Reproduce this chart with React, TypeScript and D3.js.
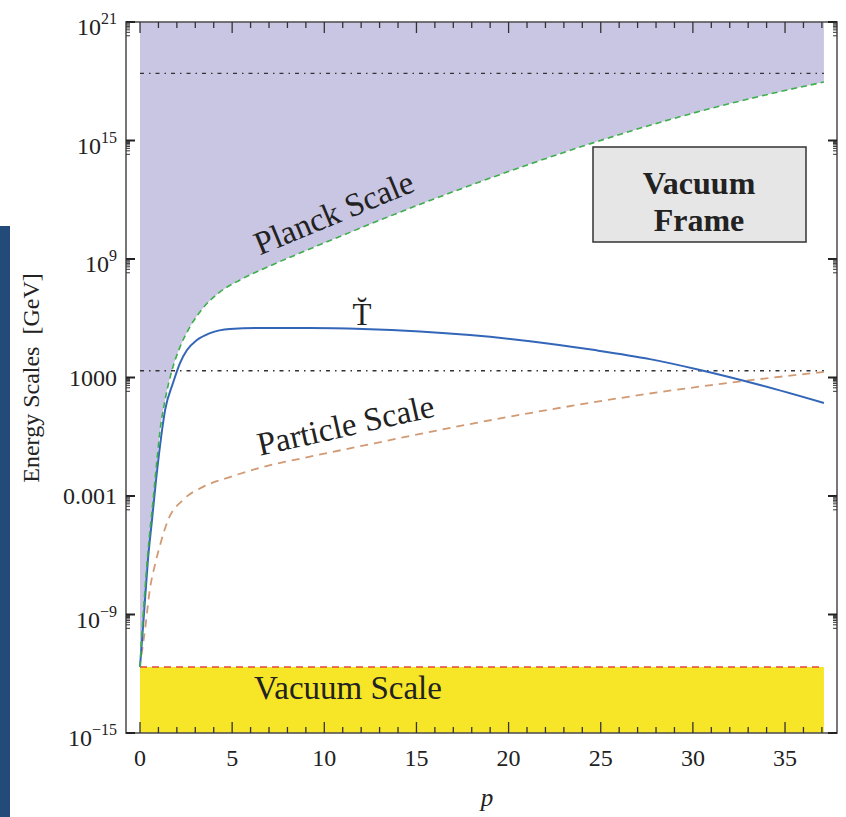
import React, { useEffect, useRef } from 'react';
import * as d3 from 'd3';

// curves: p along x, log10(energy / GeV) along y
const PLANCK_P = [0, 0.08, 0.19, 0.33, 0.49, 0.71, 0.92, 1.09, 1.36, 1.74, 2.17, 2.71, 3.42, 4.34, 5.43, 7.05, 8.68, 12.1, 15.03, 17.9, 21.16, 24.58, 27.67, 30.39, 33.64, 37.11];
const PLANCK_LOG = [-11.66, -10.29, -8.77, -7.0, -5.23, -3.2, -1.18, 0.34, 1.86, 3.38, 4.54, 5.56, 6.52, 7.33, 7.94, 8.65, 9.3, 10.62, 11.71, 12.72, 13.81, 14.88, 15.77, 16.48, 17.24, 17.96];

const T_P = [0, 0.11, 0.27, 0.43, 0.65, 0.87, 1.09, 1.36, 1.79, 2.17, 2.55, 3.09, 3.8, 4.88, 6.67, 9.22, 12.1, 15.19, 17.9, 21.16, 24.58, 27.67, 30.39, 33.64, 37.11];
const T_LOG = [-11.66, -10.29, -8.27, -6.24, -4.22, -2.19, -0.42, 1.35, 2.72, 3.73, 4.39, 4.9, 5.25, 5.46, 5.51, 5.51, 5.46, 5.33, 5.15, 4.84, 4.4, 3.93, 3.38, 2.62, 1.71];

const PARTICLE_P = [0.08, 0.27, 0.54, 0.81, 1.09, 1.52, 2.33, 3.42, 4.88, 6.67, 9.22, 12.1, 17.9, 21.16, 24.58, 27.67, 30.39, 33.64, 37.11];
const PARTICLE_LOG = [-11.05, -9.78, -7.7, -6.49, -5.48, -4.22, -3.2, -2.54, -2.04, -1.53, -1.01, -0.45, 0.64, 1.2, 1.74, 2.19, 2.54, 2.92, 3.28];

const VACUUM_LOG = -11.66;
const P_RANGE = [0, 37.11];
const REF_LINES = [18.4, 3.34]; // reduced Planck mass, TeV scale

const X_TICKS = [0, 5, 10, 15, 20, 25, 30, 35];
const Y_TICKS = [-15, -9, -3, 3, 9, 15, 21];
const Y_LABELS: [string, string][] = [['10', '\u221215'], ['10', '\u22129'], ['0.001', ''], ['1000', ''], ['10', '9'], ['10', '15'], ['10', '21']];

const SERIF = '"Liberation Serif", "Times New Roman", serif';

const App = () => {
  const ref = useRef<SVGSVGElement>(null);

  useEffect(() => {
    const svg = d3.select(ref.current);
    svg.selectAll('*').remove();

    const left = 126, right = 837, top = 22, bottom = 733;
    const x = d3.scaleLinear().domain([-0.76, 37.82]).range([left, right]);
    const y = d3.scaleLog().domain([1e-15, 1e21]).range([bottom, top]);
    const yl = (v: number) => y(Math.pow(10, v));

    // side bar
    svg.append('rect').attr('x', 0).attr('y', 226).attr('width', 10).attr('height', 591).attr('fill', '#234b7a');

    const planck = PLANCK_P.map((p, i) => [p, PLANCK_LOG[i]]);
    const tcurve = T_P.map((p, i) => [p, T_LOG[i]]);
    const particle = PARTICLE_P.map((p, i) => [p, PARTICLE_LOG[i]]);

    // shaded Planck region
    svg.append('path').datum(planck)
      .attr('d', d3.area<number[]>().x(d => x(d[0])).y0(top).y1(d => yl(d[1])).curve(d3.curveMonotoneX))
      .attr('fill', '#c9c6e3');

    // vacuum band
    svg.append('path').datum(P_RANGE)
      .attr('d', d3.area<number>().x(d => x(d)).y0(bottom).y1(yl(VACUUM_LOG)))
      .attr('fill', '#f6e627');

    svg.append('line').attr('x1', x(P_RANGE[0])).attr('x2', x(P_RANGE[1]))
      .attr('y1', yl(VACUUM_LOG)).attr('y2', yl(VACUUM_LOG))
      .attr('stroke', '#e5473a').attr('stroke-width', 1.5).attr('stroke-dasharray', '7,5');

    REF_LINES.forEach(v => {
      svg.append('line').attr('x1', x(P_RANGE[0])).attr('x2', x(P_RANGE[1]))
        .attr('y1', yl(v)).attr('y2', yl(v))
        .attr('stroke', '#333').attr('stroke-width', 1.4).attr('stroke-dasharray', '4,5,1.5,5');
    });

    const line = d3.line<number[]>().x(d => x(d[0])).y(d => yl(d[1])).curve(d3.curveMonotoneX);

    svg.append('path').datum(particle).attr('d', line).attr('fill', 'none')
      .attr('stroke', '#d29a74').attr('stroke-width', 1.8).attr('stroke-dasharray', '8,6');
    svg.append('path').datum(tcurve).attr('d', line).attr('fill', 'none')
      .attr('stroke', '#3366b8').attr('stroke-width', 2);
    svg.append('path').datum(planck).attr('d', line).attr('fill', 'none')
      .attr('stroke', '#3daf4b').attr('stroke-width', 1.6).attr('stroke-dasharray', '6,4');

    // frame
    svg.append('rect').attr('x', left).attr('y', top).attr('width', right - left).attr('height', bottom - top)
      .attr('fill', 'none').attr('stroke', '#555').attr('stroke-width', 1.6);

    // x ticks
    d3.range(0, 38).forEach(p => {
      const len = p % 5 === 0 ? 11 : 6;
      svg.append('line').attr('x1', x(p)).attr('x2', x(p)).attr('y1', bottom).attr('y2', bottom - len)
        .attr('stroke', '#333').attr('stroke-width', 1.3);
      svg.append('line').attr('x1', x(p)).attr('x2', x(p)).attr('y1', top).attr('y2', top + len)
        .attr('stroke', '#333').attr('stroke-width', 1.3);
    });
    svg.selectAll('text.xt').data(X_TICKS).enter().append('text')
      .attr('x', d => x(d)).attr('y', 766).attr('text-anchor', 'middle')
      .attr('font-family', SERIF).attr('font-size', 24).attr('fill', '#222').text(d => d);

    // y ticks
    Y_TICKS.forEach(n => {
      [left, right].forEach(ax => {
        const dir = ax === left ? 1 : -1;
        svg.append('line').attr('x1', ax).attr('x2', ax + dir * 9).attr('y1', yl(n)).attr('y2', yl(n))
          .attr('stroke', '#222').attr('stroke-width', 2);
        if (n > -15) {
          d3.range(2, 10).forEach(k => {
            const v = Math.log10(k) + n - 1;
            svg.append('line').attr('x1', ax).attr('x2', ax + dir * 4).attr('y1', yl(v)).attr('y2', yl(v))
              .attr('stroke', '#333').attr('stroke-width', 1);
          });
        }
      });
    });
    Y_TICKS.forEach((n, i) => {
      const [base, sup] = Y_LABELS[i];
      const t = svg.append('text').attr('x', 117).attr('y', yl(n) + (sup ? 13 : 8))
        .attr('text-anchor', 'end').attr('font-family', SERIF).attr('font-size', 24).attr('fill', '#222');
      t.append('tspan').text(base);
      if (sup) t.append('tspan').attr('font-size', 16).attr('dy', -11).text(sup);
    });

    // axis titles
    svg.append('text').attr('transform', 'translate(39,378) rotate(-90)').attr('text-anchor', 'middle')
      .attr('font-family', SERIF).attr('font-size', 24).attr('fill', '#222').attr('xml:space', 'preserve')
      .text('Energy Scales  [GeV]');
    svg.append('text').attr('x', 487).attr('y', 806).attr('text-anchor', 'middle')
      .attr('font-family', SERIF).attr('font-style', 'italic').attr('font-size', 25).attr('fill', '#222').text('p');

    // curve labels
    svg.append('text').attr('transform', 'translate(338,223) rotate(-22.5)').attr('text-anchor', 'middle')
      .attr('font-family', SERIF).attr('font-size', 33).attr('fill', '#222').text('Planck Scale');
    svg.append('text').attr('transform', 'translate(348,436) rotate(-12.7)').attr('text-anchor', 'middle')
      .attr('font-family', SERIF).attr('font-size', 33).attr('fill', '#222').text('Particle Scale');
    svg.append('text').attr('x', 348).attr('y', 699).attr('text-anchor', 'middle')
      .attr('font-family', SERIF).attr('font-size', 33).attr('fill', '#222').text('Vacuum Scale');
    svg.append('text').attr('x', 362).attr('y', 325).attr('text-anchor', 'middle')
      .attr('font-family', SERIF).attr('font-size', 31).attr('fill', '#222').text('T\u0306');

    // vacuum frame box
    svg.append('rect').attr('x', 593).attr('y', 147).attr('width', 213).attr('height', 95)
      .attr('fill', '#e6e6e6').attr('stroke', '#333').attr('stroke-width', 1.5);
    ['Vacuum', 'Frame'].forEach((s, i) => {
      svg.append('text').attr('x', 699).attr('y', 194 + i * 37).attr('text-anchor', 'middle')
        .attr('font-family', SERIF).attr('font-weight', 'bold').attr('font-size', 32).attr('fill', '#222').text(s);
    });
  }, []);

  return (
    <div className="App">
      <svg ref={ref} width={846} height={817} style={{ position: 'absolute', left: 0, top: 0 }} />
    </div>
  );
};

export default App;
